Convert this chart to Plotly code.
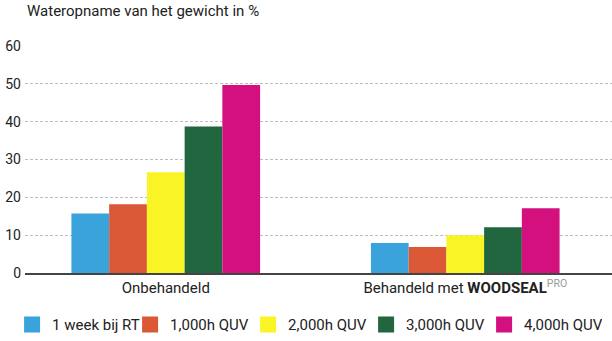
import plotly.graph_objects as go

# Water uptake as % of weight, untreated vs. treated wood
categories = ["Onbehandeld", "Behandeld met <b>WOODSEAL</b><sup><span style='color:#9a9a9a'>PRO</span></sup>"]
series_names = ["1 week bij RT", "1,000h QUV", "2,000h QUV", "3,000h QUV", "4,000h QUV"]
series_values = [
    [15.7, 7.9],
    [18.2, 6.9],
    [26.6, 10.0],
    [38.7, 12.1],
    [49.7, 17.1],
]
colors = ["#3ba3db", "#db5837", "#f9f425", "#21663e", "#d3107e"]
y_ticks = [0, 10, 20, 30, 40, 50, 60]

FONT = "Roboto"
TEXT = "#222222"

fig = go.Figure()
for name, vals, col in zip(series_names, series_values, colors):
    fig.add_trace(go.Bar(
        x=categories, y=vals, name=name,
        marker=dict(color=col, line=dict(width=0)),
        showlegend=False,
    ))
    # legend entry with a larger square swatch
    fig.add_trace(go.Scatter(
        x=[None], y=[None], mode="markers", name=name,
        marker=dict(symbol="square", size=16, color=col),
        showlegend=True,
    ))

fig.update_layout(
    width=612, height=341,
    margin=dict(l=25, r=0, t=46, b=68, autoexpand=False),
    paper_bgcolor="white", plot_bgcolor="white",
    barmode="group", bargap=0.37, bargroupgap=0,
    font=dict(family=FONT, size=14, color=TEXT),
    showlegend=True,
    legend=dict(
        orientation="h", x=-0.022, xanchor="left", y=-0.228, yanchor="middle",
        font=dict(family=FONT, size=15, color=TEXT),
        entrywidth=73, entrywidthmode="pixels",
        itemsizing="trace", bgcolor="rgba(0,0,0,0)",
    ),
    annotations=[dict(
        text="Wateropname van het gewicht in %", xref="paper", yref="paper",
        x=0, y=1, xanchor="left", yanchor="bottom", yshift=24,
        showarrow=False, font=dict(family=FONT, size=15, color=TEXT),
    )],
)

fig.update_xaxes(
    type="category", range=[-0.47, 1.49],
    showline=True, linecolor="#444444", linewidth=2,
    showgrid=False, ticks="", tickfont=dict(family=FONT, size=15, color=TEXT),
    fixedrange=True,
)
fig.update_yaxes(
    range=[0, 60], tickvals=y_ticks,
    showgrid=True, gridcolor="#bdbdbd", gridwidth=1, griddash="3px,2px",
    zeroline=False, showline=False, ticks="",
    ticklabelstandoff=3,
    tickfont=dict(family=FONT, size=14, color=TEXT),
    fixedrange=True,
)

fig.write_html("out.html")
